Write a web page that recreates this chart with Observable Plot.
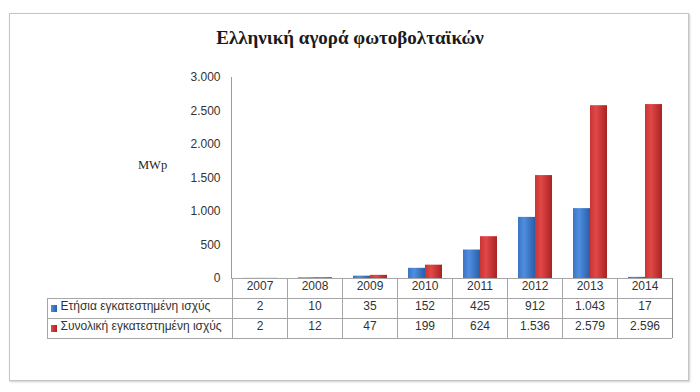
<!DOCTYPE html>
<html><head><meta charset="utf-8">
<script src="https://cdn.jsdelivr.net/npm/d3@7"></script>
<script src="https://cdn.jsdelivr.net/npm/@observablehq/plot@0.6"></script>
<style>
body{margin:0;background:#fff;}
#wrap{position:relative;width:700px;height:392px;overflow:hidden;background:#fff;}
#box{position:absolute;left:9px;top:13px;width:678px;height:366px;border:1px solid #c4c4c4;box-shadow:1px 1px 2px rgba(0,0,0,0.2);}
#title{position:absolute;left:0;top:27px;width:700px;text-align:center;font:bold 19px "Liberation Serif",serif;color:#1a1a1a;}
#mwp{position:absolute;left:138px;top:158px;font:12.5px "Liberation Serif",serif;color:#262626;}
#chart{position:absolute;left:0;top:60px;}
</style></head>
<body>
<div id="wrap">
  <div id="box"></div>
  <div id="title">Ελληνική αγορά φωτοβολταϊκών</div>
  <div id="mwp">MWp</div>
  <div id="chart"></div>
</div>
<script>
const years = ["2007","2008","2009","2010","2011","2012","2013","2014"];
const annual = [2, 10, 35, 152, 425, 912, 1043, 17];
const cumulative = [2, 12, 47, 199, 624, 1536, 2579, 2596];
const seriesNames = ["Ετήσια εγκατεστημένη ισχύς", "Συνολική εγκατεστημένη ισχύς"];
const yTicks = [0, 500, 1000, 1500, 2000, 2500, 3000];

const fmt = d3.formatLocale({decimal: ",", thousands: ".", grouping: [3], currency: ["", "€"]}).format(",d");
const rows = years.map((y, i) => ({year: y, annual: annual[i], cumulative: cumulative[i]}));

const gridColor = "#a6a6a6";
const textColor = "#333333";
const rowH = 20;
const tableLeft = 47;

function defsMark() {
  const g = d3.create("svg:g");
  const defs = g.append("defs");
  const mk = (id, stops) => {
    const lg = defs.append("linearGradient").attr("id", id).attr("x1", 0).attr("x2", 1).attr("y1", 0).attr("y2", 0);
    stops.forEach(([o, c]) => lg.append("stop").attr("offset", o).attr("stop-color", c));
  };
  mk("gBlue", [[0, "#3b74c4"], [0.35, "#4f8ee0"], [1, "#2a5ea8"]]);
  mk("gRed", [[0, "#c93434"], [0.35, "#e14848"], [1, "#a92222"]]);
  mk("gBlueKey", [[0, "#4f8ee0"], [1, "#2a5ea8"]]);
  mk("gRedKey", [[0, "#e14848"], [1, "#a92222"]]);
  return g.node();
}

function tableMark(index, scales, values, dims) {
  const x = scales.x;
  const left = dims.marginLeft;
  const right = dims.width - dims.marginRight;
  const y0 = dims.height - dims.marginBottom;
  const g = d3.create("svg:g").attr("fill", "none").attr("stroke", gridColor).attr("stroke-width", 1).attr("shape-rendering", "crispEdges");
  // y axis line
  g.append("line").attr("x1", left + 0.5).attr("x2", left + 0.5).attr("y1", dims.marginTop).attr("y2", y0).attr("stroke", "#9a9a9a");
  // horizontal lines
  g.append("line").attr("x1", left).attr("x2", right).attr("y1", y0 + 0.5).attr("y2", y0 + 0.5);
  [1, 2, 3].forEach(r => g.append("line").attr("x1", tableLeft).attr("x2", right).attr("y1", y0 + r * rowH + 0.5).attr("y2", y0 + r * rowH + 0.5));
  // vertical lines
  g.append("line").attr("x1", tableLeft + 0.5).attr("x2", tableLeft + 0.5).attr("y1", y0 + rowH).attr("y2", y0 + 3 * rowH);
  years.forEach(yr => {
    const xx = Math.round(x(yr)) + 0.5;
    g.append("line").attr("x1", xx).attr("x2", xx).attr("y1", y0).attr("y2", y0 + 3 * rowH);
  });
  g.append("line").attr("x1", right + 0.5).attr("x2", right + 0.5).attr("y1", y0).attr("y2", y0 + 3 * rowH).attr("stroke", "#8c8c8c").attr("stroke-width", 1.5);
  // legend keys
  const keys = g.append("g").attr("stroke", "none");
  ["url(#gBlueKey)", "url(#gRedKey)"].forEach((f, i) => {
    keys.append("rect").attr("x", tableLeft + 4).attr("y", y0 + (i + 1) * rowH + 7).attr("width", 6).attr("height", 7).attr("fill", f);
  });
  return g.node();
}

const plot = Plot.plot({
  width: 700,
  height: 332,
  marginLeft: 231,
  marginRight: 28,
  marginTop: 17,
  marginBottom: 114,
  style: {background: "transparent", fontFamily: "Liberation Sans, Arial, sans-serif", fontSize: "12px", color: textColor, overflow: "visible"},
  x: {domain: years, padding: 0, axis: null},
  y: {domain: [0, 3000], ticks: yTicks, tickFormat: fmt, tickSize: 0, tickPadding: 11, label: null},
  marks: [
    defsMark,
    Plot.barY(rows, {x: "year", y: "annual", fill: "url(#gBlue)", insetLeft: 11, insetRight: 27}),
    Plot.barY(rows, {x: "year", y: "cumulative", fill: "url(#gRed)", insetLeft: 28, insetRight: 10}),
    tableMark,
    Plot.text(rows, {x: "year", text: "year", frameAnchor: "bottom", dy: rowH * 0.5 + 1, fill: textColor}),
    Plot.text(rows, {x: "year", text: d => fmt(d.annual), frameAnchor: "bottom", dy: rowH * 1.5 + 1, fill: textColor}),
    Plot.text(rows, {x: "year", text: d => fmt(d.cumulative), frameAnchor: "bottom", dy: rowH * 2.5 + 1, fill: textColor}),
    Plot.text([seriesNames[0]], {text: d => d, frameAnchor: "bottom-left", textAnchor: "start", dx: tableLeft + 13 - 231, dy: rowH * 1.5 + 1, fill: textColor}),
    Plot.text([seriesNames[1]], {text: d => d, frameAnchor: "bottom-left", textAnchor: "start", dx: tableLeft + 13 - 231, dy: rowH * 2.5 + 1, fill: textColor})
  ]
});
document.getElementById("chart").appendChild(plot);
</script>
</body></html>
